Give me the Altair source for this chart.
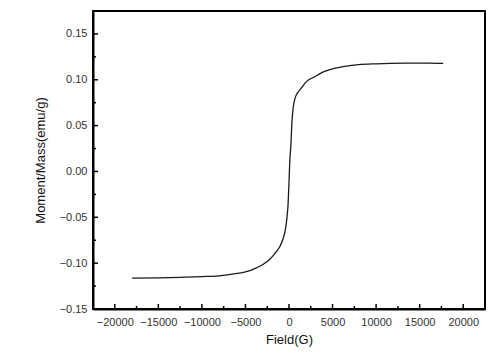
import altair as alt
import pandas as pd

# Magnetization curve
field = [-18000, -15000, -12000, -10000, -8000, -6500, -5000, -4000, -3000, -2200,
         -1500, -1000, -700, -450, -250, -100, 0, 100, 200, 350, 480, 700, 1000,
         1300, 2000, 3000, 3500, 4500, 5500, 7000, 8000, 10000, 13500, 16000, 17700]
moment = [-0.1163, -0.1160, -0.1153, -0.1147, -0.1138, -0.1120, -0.1095, -0.1062,
          -0.1015, -0.0957, -0.0880, -0.0810, -0.0740, -0.0650, -0.0520, -0.0350,
          -0.0120, 0.0130, 0.0260, 0.0560, 0.0696, 0.0800, 0.0860, 0.0895, 0.0980,
          0.1036, 0.1065, 0.1105, 0.1130, 0.1155, 0.1165, 0.1174, 0.1181, 0.1182, 0.1178]

x_major = [-20000, -15000, -10000, -5000, 0, 5000, 10000, 15000, 20000]
x_minor = [-22500, -17500, -12500, -7500, -2500, 2500, 7500, 12500, 17500, 22500]
y_major = [-0.15, -0.10, -0.05, 0.00, 0.05, 0.10, 0.15]
y_minor = [-0.125, -0.075, -0.025, 0.025, 0.075, 0.125]

x_domain = [-22500, 22500]
y_domain = [-0.15, 0.175]

W, H = 392, 298
FONT = "Liberation Sans"

df = pd.DataFrame({"field": field, "moment": moment})
xs = alt.Scale(domain=x_domain, nice=False, zero=False)
ys = alt.Scale(domain=y_domain, nice=False, zero=False)

line = alt.Chart(df).mark_line(color="#1a1a1a", strokeWidth=1.3,
                               interpolate="monotone").encode(
    x=alt.X("field:Q", scale=xs,
            axis=alt.Axis(values=x_major, title="Field(G)", format="d", grid=False,
                          ticks=False, tickSize=0, domain=True, domainColor="#000000",
                          domainWidth=2, labelPadding=7,
                          labelFont=FONT, labelFontSize=11, labelColor="#333333",
                          titleFont=FONT, titleFontSize=13, titleFontWeight="normal",
                          titleColor="#111111", titlePadding=6)),
    y=alt.Y("moment:Q", scale=ys,
            axis=alt.Axis(values=y_major, title="Moment/Mass(emu/g)", format=".2f",
                          grid=False, ticks=False, tickSize=0, domain=True,
                          domainColor="#000000", domainWidth=2,
                          labelPadding=6, labelFont=FONT, labelFontSize=11,
                          labelColor="#333333", titleFont=FONT, titleFontSize=13,
                          titleFontWeight="normal", titleColor="#111111",
                          titlePadding=12)),
)

def xticks(vals, length):
    d = pd.DataFrame({"v": vals})
    return alt.Chart(d).mark_rule(color="#000000", strokeWidth=1.5).encode(
        x=alt.X("v:Q", scale=xs), y=alt.value(H), y2=alt.value(H - length))

def yticks(vals, length):
    d = pd.DataFrame({"v": vals})
    return alt.Chart(d).mark_rule(color="#000000", strokeWidth=1.5).encode(
        y=alt.Y("v:Q", scale=ys), x=alt.value(0), x2=alt.value(length))

chart = alt.layer(
    line,
    xticks(x_major, 5), xticks(x_minor, 3),
    yticks(y_major, 5), yticks(y_minor, 3),
).properties(
    width=W, height=H,
    autosize=alt.AutoSizeParams(type="none"),
    padding={"left": 85, "top": 3, "right": 6, "bottom": 40},
).configure_view(
    stroke="#000000", strokeWidth=2, strokeOpacity=1
)

chart.save("out.html", embed_options={"renderer": "svg", "actions": False})
